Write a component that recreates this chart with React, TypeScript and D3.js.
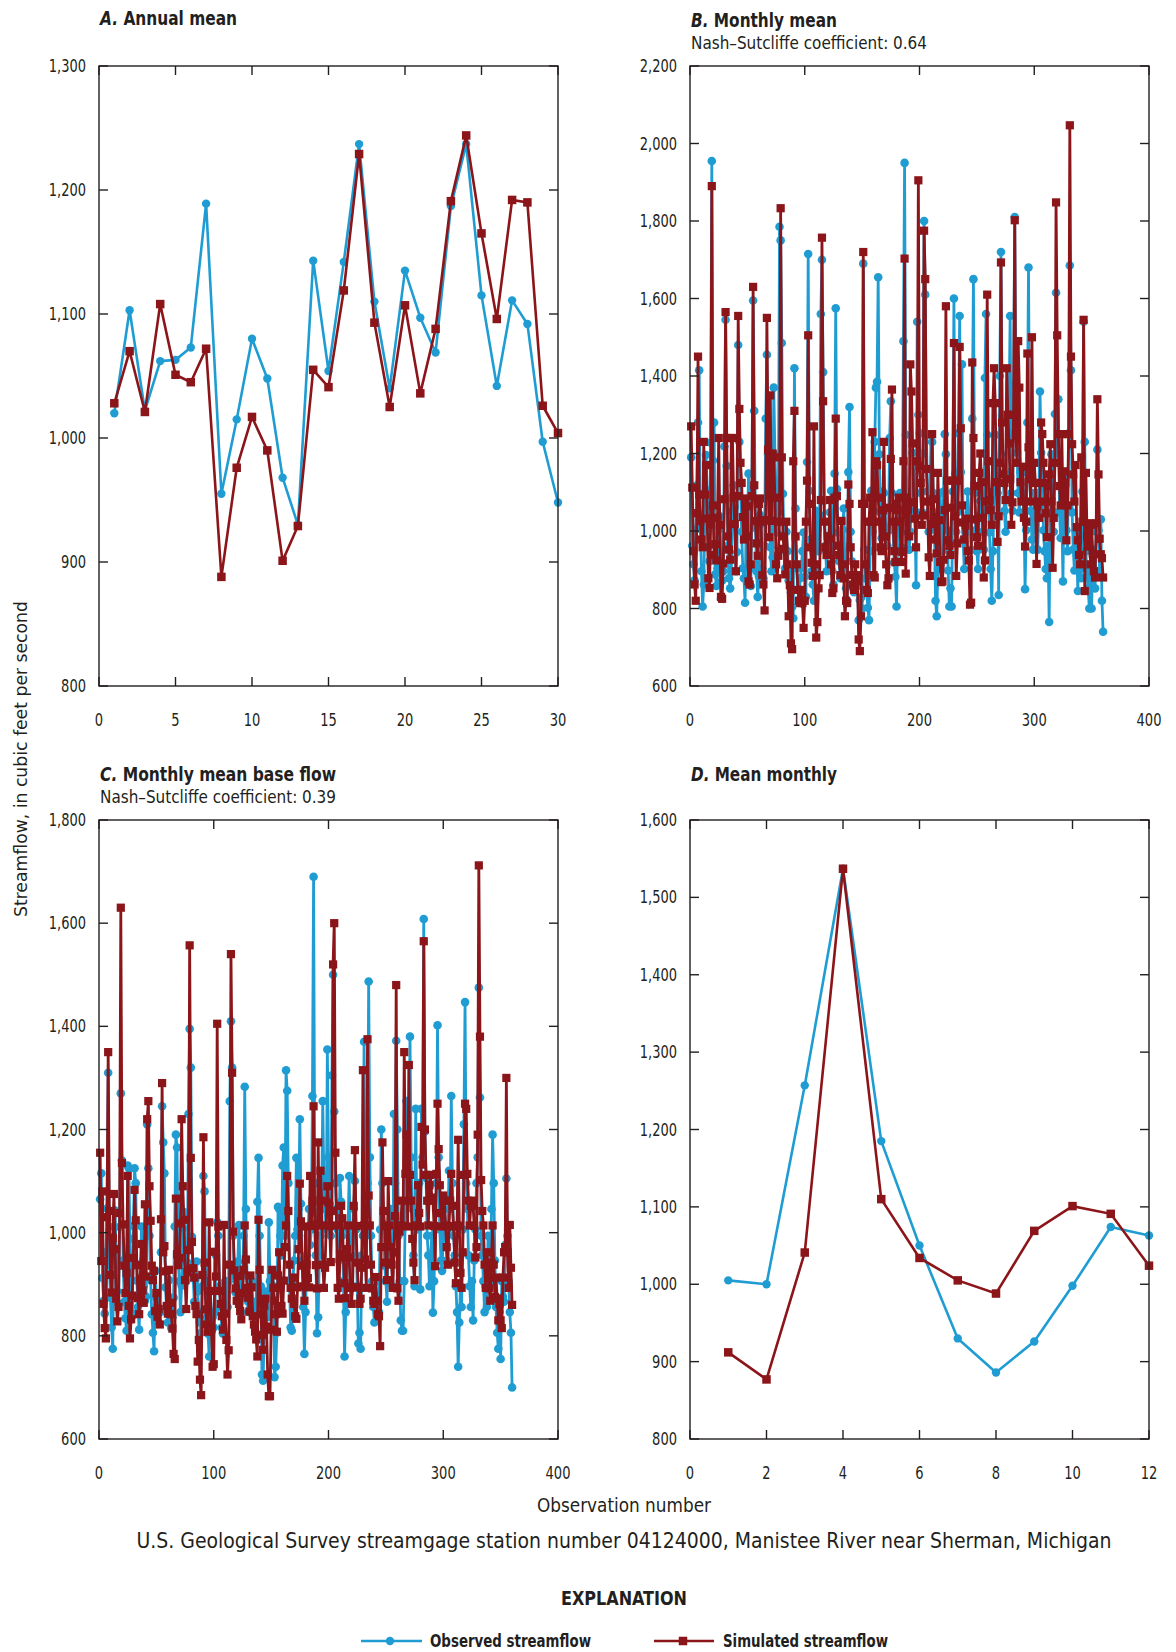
import React from "react";
import * as d3 from "d3";

// ---------- DATA ----------
const annualObs = [1020, 1103, 1022, 1062, 1063, 1073, 1189, 955, 1015, 1080, 1048, 968, 930, 1143, 1054, 1142, 1237, 1110, 1040, 1135, 1097, 1069, 1187, 1237, 1115, 1042, 1111, 1092, 997, 948];
const annualSim = [1028, 1070, 1021, 1108, 1051, 1045, 1072, 888, 976, 1017, 990, 901, 929, 1055, 1041, 1119, 1229, 1093, 1025, 1107, 1036, 1088, 1191, 1244, 1165, 1096, 1192, 1190, 1026, 1004];

const meanMonthlyObs = [1005, 1000, 1257, 1537, 1185, 1050, 930, 886, 926, 998, 1074, 1063];
const meanMonthlySim = [912, 877, 1041, 1537, 1110, 1034, 1005, 988, 1069, 1101, 1091, 1024];

// Monthly mean streamflow, one row per water year (Oct..Sep)
const monthlyObsRows = [
  [1190, 962, 914, 873, 1004, 1118, 1280, 1415, 1012, 896, 805, 862],
  [1046, 1196, 1104, 958, 922, 1228, 1955, 1182, 1280, 888, 858, 904],
  [1004, 1038, 825, 872, 896, 1218, 1545, 1168, 962, 878, 852, 896],
  [1052, 1118, 1062, 896, 946, 1480, 1230, 1122, 998, 904, 878, 815],
  [1038, 1004, 1148, 902, 858, 1104, 1595, 1310, 1008, 896, 830, 884],
  [1042, 1018, 904, 878, 962, 1290, 1455, 1198, 1104, 958, 896, 932],
  [1370, 1198, 1102, 996, 1048, 1785, 1750, 1485, 1096, 952, 904, 998],
  [948, 872, 896, 842, 804, 775, 1420, 1058, 904, 848, 822, 878],
  [904, 948, 996, 882, 830, 1178, 1715, 1104, 978, 896, 862, 820],
  [898, 1052, 1004, 948, 1042, 1560, 1700, 1410, 1078, 962, 896, 952],
  [958, 1048, 1104, 896, 862, 1148, 1575, 1108, 996, 922, 878, 952],
  [1004, 1058, 898, 852, 820, 1152, 1320, 998, 922, 858, 842, 878],
  [882, 858, 770, 822, 828, 800, 1690, 952, 878, 842, 802, 770],
  [948, 1104, 998, 1052, 1230, 1370, 1385, 1655, 1198, 1048, 982, 1102],
  [1098, 1052, 996, 962, 1004, 1240, 1335, 1098, 1002, 918, 882, 805],
  [1004, 1058, 1098, 958, 1052, 1490, 1950, 1248, 1102, 996, 952, 998],
  [1098, 1202, 1148, 1052, 860, 1540, 1300, 1252, 1098, 1048, 1200, 1800],
  [1610, 1248, 1102, 998, 1052, 1248, 1230, 1098, 1004, 820, 780, 902],
  [1052, 1098, 1004, 948, 1102, 1250, 1198, 1002, 898, 805, 852, 805],
  [1102, 1600, 1148, 998, 1048, 1252, 1555, 1152, 1430, 978, 902, 998],
  [998, 1102, 1048, 1004, 952, 1290, 1650, 1098, 1002, 948, 902, 1040],
  [1078, 1120, 998, 952, 1395, 1560, 1248, 1102, 996, 902, 820, 948],
  [1102, 1248, 1152, 1098, 835, 1400, 1720, 1298, 1148, 1052, 998, 1152],
  [1198, 1302, 1555, 1098, 1052, 1380, 1810, 1348, 1202, 1098, 1048, 1152],
  [1098, 1152, 1048, 850, 1002, 1280, 1680, 1148, 1052, 978, 952, 1098],
  [1002, 1098, 952, 1048, 1360, 1202, 1148, 1002, 948, 902, 878, 962],
  [765, 1102, 1198, 1052, 998, 1302, 1615, 1198, 1340, 1048, 982, 1052],
  [870, 1098, 1152, 1002, 948, 1252, 1685, 1415, 1048, 952, 898, 1002],
  [952, 845, 998, 902, 878, 1102, 1540, 1230, 948, 882, 852, 800],
  [898, 800, 952, 878, 852, 998, 1210, 1002, 898, 1030, 820, 740],
];
const monthlySimRows = [
  [1270, 1112, 948, 862, 820, 1046, 1450, 1094, 1026, 978, 958, 1230],
  [1094, 1170, 1032, 878, 853, 1018, 1890, 1066, 938, 966, 924, 1034],
  [1240, 1016, 830, 825, 916, 1082, 1565, 1240, 986, 952, 926, 1240],
  [1240, 1086, 1018, 896, 1090, 1555, 1315, 1176, 1124, 1036, 978, 1084],
  [986, 1064, 870, 862, 914, 1090, 1630, 1118, 1026, 968, 936, 1070],
  [1084, 1024, 886, 862, 795, 1028, 1550, 1210, 984, 1350, 1026, 1200],
  [1190, 1086, 914, 878, 936, 1024, 1833, 1190, 986, 954, 888, 1024],
  [914, 780, 860, 710, 695, 1180, 1310, 986, 914, 848, 820, 814],
  [848, 814, 750, 820, 1024, 1130, 1505, 1070, 958, 918, 884, 1270],
  [914, 725, 765, 852, 886, 1080, 1757, 1335, 1024, 958, 938, 986],
  [980, 1080, 914, 840, 852, 1086, 1290, 1090, 962, 938, 886, 1026],
  [914, 878, 780, 820, 814, 1120, 1070, 958, 886, 862, 848, 914],
  [886, 870, 720, 690, 780, 1070, 1720, 1070, 914, 848, 840, 1024],
  [1086, 1024, 1255, 886, 880, 1180, 1170, 1086, 1024, 958, 948, 1054],
  [1230, 986, 914, 860, 878, 1060, 1186, 1365, 1024, 948, 920, 1070],
  [1054, 1086, 1024, 920, 946, 1180, 1703, 890, 1086, 1054, 986, 1430],
  [1360, 1226, 1074, 1032, 958, 1180, 1905, 1168, 1124, 1016, 1040, 1775],
  [1650, 1160, 1076, 932, 884, 1018, 1250, 1082, 1036, 978, 942, 1150],
  [1028, 920, 868, 870, 926, 1054, 1580, 1130, 976, 962, 938, 1060],
  [1130, 1485, 1038, 884, 968, 1130, 1475, 1265, 1066, 1022, 978, 1014],
  [1032, 948, 924, 810, 815, 1435, 1240, 1116, 1030, 984, 962, 1150],
  [1200, 1126, 1034, 880, 924, 1076, 1610, 1180, 1080, 1054, 1016, 1330],
  [1420, 1330, 1126, 972, 1038, 1176, 1693, 1280, 1146, 1124, 1080, 1420],
  [1300, 1226, 1134, 1016, 1074, 1300, 1802, 1250, 1176, 1490, 1370, 1126],
  [1076, 1166, 1034, 960, 1024, 1458, 1216, 1134, 1076, 1500, 1124, 1176],
  [1124, 915, 1066, 1034, 1076, 1280, 1250, 1176, 1124, 1046, 984, 1116],
  [1146, 1224, 1076, 905, 1034, 1176, 1848, 1505, 1250, 1116, 1066, 1250],
  [1076, 1154, 1124, 976, 1066, 1250, 2047, 1450, 1224, 1146, 1076, 1170],
  [1010, 976, 938, 914, 1190, 1024, 1545, 845, 1150, 986, 960, 1020],
  [914, 1016, 942, 896, 880, 1020, 1340, 1146, 980, 940, 930, 880],
];

// Monthly mean base flow, one row per water year (Oct..Sep)
const baseObsRows = [
  [1065, 1115, 912, 868, 843, 962, 1047, 1310, 938, 874, 816, 775],
  [1012, 1043, 957, 886, 862, 1011, 1270, 1140, 946, 866, 834, 810],
  [1130, 1125, 988, 846, 838, 1013, 1125, 1096, 907, 856, 812, 904],
  [1012, 944, 896, 868, 876, 1210, 1125, 994, 908, 842, 806, 770],
  [926, 874, 858, 826, 846, 962, 1245, 1175, 1115, 894, 846, 826],
  [908, 866, 815, 836, 874, 1012, 1190, 1165, 944, 906, 846, 897],
  [1008, 1040, 946, 906, 942, 1230, 1395, 1320, 992, 916, 866, 908],
  [944, 886, 846, 826, 806, 896, 1110, 1080, 906, 836, 804, 760],
  [886, 846, 836, 816, 846, 956, 1020, 994, 896, 856, 816, 804],
  [876, 906, 876, 856, 906, 1255, 1410, 1320, 994, 916, 884, 906],
  [944, 1015, 906, 846, 876, 994, 1283, 1046, 916, 866, 846, 856],
  [906, 866, 856, 836, 866, 1060, 1145, 994, 896, 725, 713, 806],
  [886, 846, 836, 1020, 906, 856, 926, 896, 720, 740, 806, 1050],
  [1046, 994, 956, 1130, 1165, 994, 1315, 1275, 1096, 906, 816, 810],
  [906, 946, 994, 1145, 1006, 1046, 1220, 1056, 946, 856, 765, 846],
  [956, 994, 1046, 976, 1006, 1265, 1690, 1096, 956, 805, 836, 956],
  [994, 1056, 1255, 1096, 1046, 1006, 1355, 1146, 1056, 994, 1305, 1500],
  [1235, 1096, 1046, 1006, 946, 1106, 1060, 994, 906, 760, 846, 896],
  [1006, 1110, 994, 956, 896, 1046, 1100, 1006, 896, 785, 806, 775],
  [956, 994, 1370, 1046, 1006, 1096, 1487, 1146, 994, 906, 856, 826],
  [906, 876, 866, 846, 1006, 1200, 1096, 1006, 936, 906, 866, 994],
  [1006, 1046, 956, 896, 1230, 1096, 1372, 1200, 994, 906, 830, 810],
  [810, 906, 1046, 1255, 1096, 1056, 1380, 1146, 1046, 956, 896, 1240],
  [1006, 1046, 1096, 890, 1240, 1146, 1608, 1196, 1106, 994, 956, 896],
  [956, 994, 845, 906, 1006, 1096, 1402, 1146, 1006, 946, 926, 994],
  [1046, 1006, 946, 1006, 1120, 1046, 1265, 1096, 994, 956, 896, 846],
  [740, 826, 896, 856, 1006, 1210, 1447, 1096, 1046, 956, 896, 856],
  [906, 830, 946, 1006, 1096, 1146, 1475, 1262, 994, 956, 906, 846],
  [896, 856, 994, 956, 906, 1046, 1190, 1096, 946, 856, 806, 775],
  [846, 755, 906, 876, 866, 976, 1105, 994, 906, 846, 806, 700],
];
const baseSimRows = [
  [1155, 945, 1080, 862, 815, 795, 1030, 1350, 1042, 918, 884, 990],
  [1075, 968, 872, 828, 856, 1038, 1630, 1135, 1016, 936, 883, 922],
  [1110, 858, 795, 832, 878, 951, 1083, 1024, 937, 873, 842, 911],
  [978, 888, 864, 1055, 915, 1220, 1255, 1090, 1023, 936, 908, 926],
  [848, 883, 837, 852, 822, 1026, 1290, 962, 974, 925, 858, 843],
  [928, 864, 842, 814, 765, 755, 1066, 958, 937, 951, 1018, 1220],
  [1090, 1025, 908, 852, 924, 966, 1557, 1145, 982, 931, 913, 858],
  [842, 750, 792, 715, 685, 918, 1185, 942, 851, 822, 808, 1020],
  [887, 813, 740, 745, 963, 915, 1405, 1012, 887, 862, 838, 812],
  [1015, 843, 792, 725, 772, 938, 1540, 1310, 1002, 927, 892, 868],
  [916, 862, 848, 832, 883, 928, 1014, 948, 893, 874, 847, 917],
  [894, 838, 822, 808, 793, 760, 1025, 928, 842, 802, 773, 858],
  [872, 818, 725, 683, 683, 812, 928, 893, 868, 842, 808, 917],
  [962, 894, 858, 843, 907, 972, 1014, 1110, 1042, 938, 893, 872],
  [913, 862, 838, 833, 894, 968, 1095, 1022, 936, 896, 868, 1012],
  [938, 912, 894, 1110, 1013, 1062, 1245, 1016, 937, 892, 1175, 1014],
  [1120, 1062, 938, 893, 932, 1014, 1090, 1058, 1013, 943, 1042, 1520],
  [1600, 1155, 1014, 893, 872, 958, 1052, 1028, 952, 902, 873, 968],
  [1014, 952, 893, 862, 894, 1052, 1160, 1013, 942, 894, 862, 872],
  [932, 1315, 1014, 948, 893, 1375, 1072, 1014, 938, 892, 868, 862],
  [914, 868, 842, 838, 780, 972, 1175, 1042, 1013, 942, 908, 1100],
  [1014, 972, 938, 893, 962, 1032, 1480, 892, 868, 1002, 1014, 1062],
  [1013, 1350, 1114, 1190, 1012, 1325, 1112, 1062, 988, 942, 908, 1014],
  [1013, 1092, 1038, 1012, 1205, 1132, 1565, 1200, 1112, 1062, 1014, 1092],
  [1112, 1068, 1062, 1013, 935, 1114, 1250, 1162, 1092, 1038, 1012, 1072],
  [1062, 1014, 972, 938, 1013, 1062, 1114, 1052, 1012, 942, 902, 1014],
  [1180, 1013, 922, 893, 962, 1112, 1250, 1240, 1114, 1062, 1014, 1052],
  [1062, 1052, 1013, 952, 972, 1190, 1712, 1380, 1102, 1042, 1014, 938],
  [893, 962, 932, 892, 868, 942, 1014, 938, 875, 913, 872, 830],
  [862, 830, 815, 913, 962, 972, 1300, 962, 893, 1015, 932, 860],
];

const monthlyObs = monthlyObsRows.flat();
const monthlySim = monthlySimRows.flat();
const baseObs = baseObsRows.flat();
const baseSim = baseSimRows.flat();

const annualX = annualObs.map((_, i) => i + 1);
const monthlyX = monthlyObs.map((_, i) => i + 1);
const meanMonthlyX = meanMonthlyObs.map((_, i) => i + 1);

const xTicksA = [0, 5, 10, 15, 20, 25, 30];
const yTicksA = [800, 900, 1000, 1100, 1200, 1300];
const xTicksB = [0, 100, 200, 300, 400];
const yTicksB = [600, 800, 1000, 1200, 1400, 1600, 1800, 2000, 2200];
const yTicksC = [600, 800, 1000, 1200, 1400, 1600, 1800];
const xTicksD = [0, 2, 4, 6, 8, 10, 12];
const yTicksD = [800, 900, 1000, 1100, 1200, 1300, 1400, 1500, 1600];

// ---------- STYLE ----------
const BLUE = "#1f9dd3";
const RED = "#8b1519";
const INK = "#231f20";
const FONT = "'Liberation Sans Narrow', 'DejaVu Sans Condensed', 'Arial Narrow', 'Roboto', sans-serif";
const fmt = d3.format(",");

// width that a tick label takes in the reference's condensed face
function labelWidth(s: string) {
  let w = 0;
  for (const c of s) w += c === "," ? 4 : 8.3;
  return w;
}

type PanelProps = {
  x0: number; y0: number; w: number; h: number;
  xDomain: [number, number]; yDomain: [number, number];
  xTicks: number[]; yTicks: number[];
  xs: number[]; obs: number[]; sim: number[];
  letter: string; title: string; titleW: number; subtitle?: string;
  titleY: number; subY?: number; lw: number; r: number; sq: number;
};

function Panel(p: PanelProps) {
  const xS = d3.scaleLinear().domain(p.xDomain).range([p.x0, p.x0 + p.w]);
  const yS = d3.scaleLinear().domain(p.yDomain).range([p.y0 + p.h, p.y0]);
  const line = d3.line<number>().x((_, i) => xS(p.xs[i])).y((d) => yS(d));
  const tl = 9;
  const bottom = p.y0 + p.h;
  const right = p.x0 + p.w;
  const sq = p.sq;
  return (
    <g>
      <text x={p.x0 + 1} y={p.titleY} fontFamily={FONT} fontSize={19} fontWeight="bold" fill={INK}
        textLength={p.titleW} lengthAdjust="spacingAndGlyphs">
        <tspan fontStyle="italic">{p.letter}</tspan>
        <tspan> {p.title}</tspan>
      </text>
      {p.subtitle && (
        <text x={p.x0 + 1} y={p.subY} fontFamily={FONT} fontSize={17} fill={INK}
          textLength={236} lengthAdjust="spacingAndGlyphs">{p.subtitle}</text>
      )}
      {/* data */}
      <path d={line(p.obs) || ""} fill="none" stroke={BLUE} strokeWidth={p.lw} strokeLinejoin="round" />
      {p.obs.map((v, i) => (
        <circle key={"o" + i} cx={xS(p.xs[i])} cy={yS(v)} r={p.r} fill={BLUE} />
      ))}
      <path d={line(p.sim) || ""} fill="none" stroke={RED} strokeWidth={p.lw} strokeLinejoin="miter" />
      {p.sim.map((v, i) => (
        <rect key={"s" + i} x={xS(p.xs[i]) - sq / 2} y={yS(v) - sq / 2} width={sq} height={sq} fill={RED} />
      ))}
      {/* frame */}
      <rect x={p.x0} y={p.y0} width={p.w} height={p.h} fill="none" stroke={INK} strokeWidth={1.4} />
      {p.xTicks.map((t) => (
        <g key={"xt" + t}>
          <line x1={xS(t)} x2={xS(t)} y1={bottom} y2={bottom - tl} stroke={INK} strokeWidth={1.4} />
          <line x1={xS(t)} x2={xS(t)} y1={p.y0} y2={p.y0 + tl} stroke={INK} strokeWidth={1.4} />
          <text x={xS(t)} y={bottom + 40} textAnchor="middle" fontFamily={FONT} fontSize={17} fill={INK}
            textLength={labelWidth(fmt(t))} lengthAdjust="spacingAndGlyphs">{fmt(t)}</text>
        </g>
      ))}
      {p.yTicks.map((t) => (
        <g key={"yt" + t}>
          <line x1={p.x0} x2={p.x0 + tl} y1={yS(t)} y2={yS(t)} stroke={INK} strokeWidth={1.4} />
          <line x1={right} x2={right - tl} y1={yS(t)} y2={yS(t)} stroke={INK} strokeWidth={1.4} />
          <text x={p.x0 - 13} y={yS(t)} dy="0.36em" textAnchor="end" fontFamily={FONT} fontSize={17} fill={INK}
            textLength={labelWidth(fmt(t))} lengthAdjust="spacingAndGlyphs">{fmt(t)}</text>
        </g>
      ))}
    </g>
  );
}

export default function App() {
  const W = 1176, H = 1652;
  return (
    <svg width={W} height={H} viewBox={`0 0 ${W} ${H}`} style={{ position: "absolute", left: 0, top: 0, background: "#fff" }}>
      <rect x={0} y={0} width={W} height={H} fill="#fff" />
      <Panel x0={99} y0={66} w={459} h={620} xDomain={[0, 30]} yDomain={[800, 1300]}
        xTicks={xTicksA} yTicks={yTicksA} xs={annualX} obs={annualObs} sim={annualSim}
        letter="A." title="Annual mean" titleW={137} titleY={25} lw={2.6} r={4.2} sq={8.5} />
      <Panel x0={690} y0={66} w={459} h={620} xDomain={[0, 400]} yDomain={[600, 2200]}
        xTicks={xTicksB} yTicks={yTicksB} xs={monthlyX} obs={monthlyObs} sim={monthlySim}
        letter="B." title="Monthly mean" titleW={146} subtitle="Nash–Sutcliffe coefficient: 0.64" titleY={27} subY={49}
        lw={2.8} r={4.3} sq={8.2} />
      <Panel x0={99} y0={820} w={459} h={619} xDomain={[0, 400]} yDomain={[600, 1800]}
        xTicks={xTicksB} yTicks={yTicksC} xs={monthlyX} obs={baseObs} sim={baseSim}
        letter="C." title="Monthly mean base flow" titleW={236} subtitle="Nash–Sutcliffe coefficient: 0.39" titleY={781} subY={803}
        lw={2.8} r={4.3} sq={8.2} />
      <Panel x0={690} y0={820} w={459} h={619} xDomain={[0, 12]} yDomain={[800, 1600]}
        xTicks={xTicksD} yTicks={yTicksD} xs={meanMonthlyX} obs={meanMonthlyObs} sim={meanMonthlySim}
        letter="D." title="Mean monthly" titleW={146} titleY={781} lw={2.6} r={4.2} sq={8.5} />

      <text transform="translate(27,759) rotate(-90)" textAnchor="middle" fontFamily={FONT} fontSize={18} fill={INK}
        textLength={316} lengthAdjust="spacingAndGlyphs">Streamflow, in cubic feet per second</text>
      <text x={624} y={1512} textAnchor="middle" fontFamily={FONT} fontSize={20} fill={INK}
        textLength={174} lengthAdjust="spacingAndGlyphs">Observation number</text>
      <text x={624} y={1548} textAnchor="middle" fontFamily={FONT} fontSize={22} fill={INK}
        textLength={975} lengthAdjust="spacingAndGlyphs">U.S. Geological Survey streamgage station number 04124000, Manistee River near Sherman, Michigan</text>

      <text x={624} y={1605} textAnchor="middle" fontFamily={FONT} fontSize={20} fontWeight="bold" fill={INK}
        textLength={126} lengthAdjust="spacingAndGlyphs">EXPLANATION</text>
      <line x1={361} x2={422} y1={1641} y2={1641} stroke={BLUE} strokeWidth={2.6} />
      <circle cx={390} cy={1641} r={4.2} fill={BLUE} />
      <text x={430} y={1647} fontFamily={FONT} fontSize={18} fontWeight="bold" fill={INK}
        textLength={161} lengthAdjust="spacingAndGlyphs">Observed streamflow</text>
      <line x1={654} x2={714} y1={1641} y2={1641} stroke={RED} strokeWidth={2.6} />
      <rect x={683 - 4.25} y={1641 - 4.25} width={8.5} height={8.5} fill={RED} />
      <text x={723} y={1647} fontFamily={FONT} fontSize={18} fontWeight="bold" fill={INK}
        textLength={165} lengthAdjust="spacingAndGlyphs">Simulated streamflow</text>
    </svg>
  );
}
